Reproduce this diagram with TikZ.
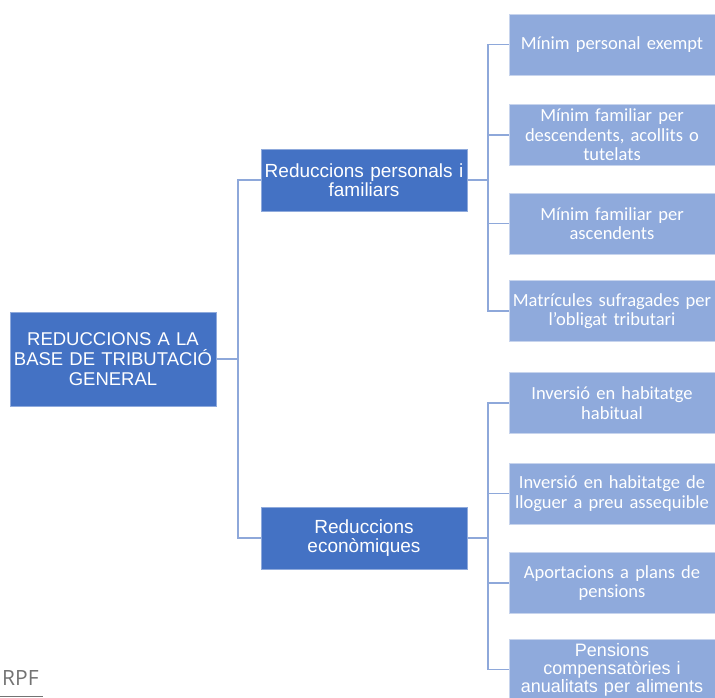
\documentclass[tikz,border=0pt]{standalone}
\usepackage{fontspec}
\newfontfamily\arialfont{Liberation Sans}
\newfontfamily\calibrifont{Carlito}
\newfontfamily\notefont{Open Sans}
\definecolor{darkblue}{HTML}{4472C4}
\definecolor{lightblue}{HTML}{8FAADC}
\definecolor{linkblue}{HTML}{8EA8DA}

\begin{document}
\begin{tikzpicture}[x=1pt,y=-1pt,
    root/.style={fill=darkblue,draw=darkblue!60!white,line width=0.8pt,text=white,
      minimum width=206pt,minimum height=94pt,text width=204pt,inner sep=1pt,align=center,
      font=\arialfont\fontsize{18.5}{20}\selectfont},
    branch/.style={fill=darkblue,draw=darkblue!60!white,line width=0.8pt,text=white,
      minimum width=206pt,minimum height=62pt,text width=204pt,inner sep=1pt,align=center,
      font=\arialfont\fontsize{19}{18.5}\selectfont},
    leaf/.style={fill=lightblue,draw=lightblue!50!white,line width=0.8pt,text=white,
      minimum width=206pt,minimum height=61pt,text width=204pt,inner sep=1pt,align=center,
      font=\calibrifont\fontsize{18.5}{19.5}\selectfont},
    link/.style={draw=linkblue,line width=1.6pt}]
  \clip (0,0) rectangle (715,697);
  \fill[white] (0,0) rectangle (715,697);

  \node[root] (base) at (113,359) {REDUCCIONS A LA\\BASE DE TRIBUTACIÓ\\GENERAL};
  \node[branch] (pers) at (364,180) {Reduccions personals i\\familiars};
  \node[branch] (econ) at (364,538) {Reduccions\\econòmiques};

  \node[leaf] (exempt) at (612,44.5) {Mínim personal exempt};
  \node[leaf] (desc) at (612,135) {Mínim familiar per\\descendents, acollits o\\tutelats};
  \node[leaf] (asc) at (612,223.5) {Mínim familiar per\\ascendents};
  \node[leaf] (matr) at (612,311) {Matrícules sufragades per\\l’obligat tributari};
  \node[leaf] (habit) at (612,403) {Inversió en habitatge\\habitual};
  \node[leaf] (lloguer) at (612,493.5) {Inversió en habitatge de\\lloguer a preu assequible};
  \node[leaf] (plans) at (612,583) {Aportacions a plans de\\pensions};
  \node[leaf,font=\arialfont\fontsize{18}{18}\selectfont] (comp) at (612,669.5)
    {Pensions\\compensatòries i\\anualitats per aliments};

  \coordinate (jbase) at (238,359);
  \coordinate (jpers) at (488,180);
  \coordinate (jecon) at (488,538);

  \draw[link] (base.east) -- (jbase);
  \draw[link] (jbase) |- (pers.west);
  \draw[link] (jbase) |- (econ.west);

  \draw[link] (pers.east) -- (jpers);
  \foreach \leafname in {exempt,desc,asc,matr}
    \draw[link] (jpers) |- (\leafname.west);

  \draw[link] (econ.east) -- (jecon);
  \foreach \leafname in {habit,lloguer,plans,comp}
    \draw[link] (jecon) |- (\leafname.west);

  \node[anchor=base west,inner sep=0pt,text=black!55,font=\notefont\fontsize{21}{24}\selectfont]
    (rpf) at (2,685) {RPF};
  \draw[black!55,line width=1pt] (0,696) -- (43,696);
\end{tikzpicture}
\end{document}
